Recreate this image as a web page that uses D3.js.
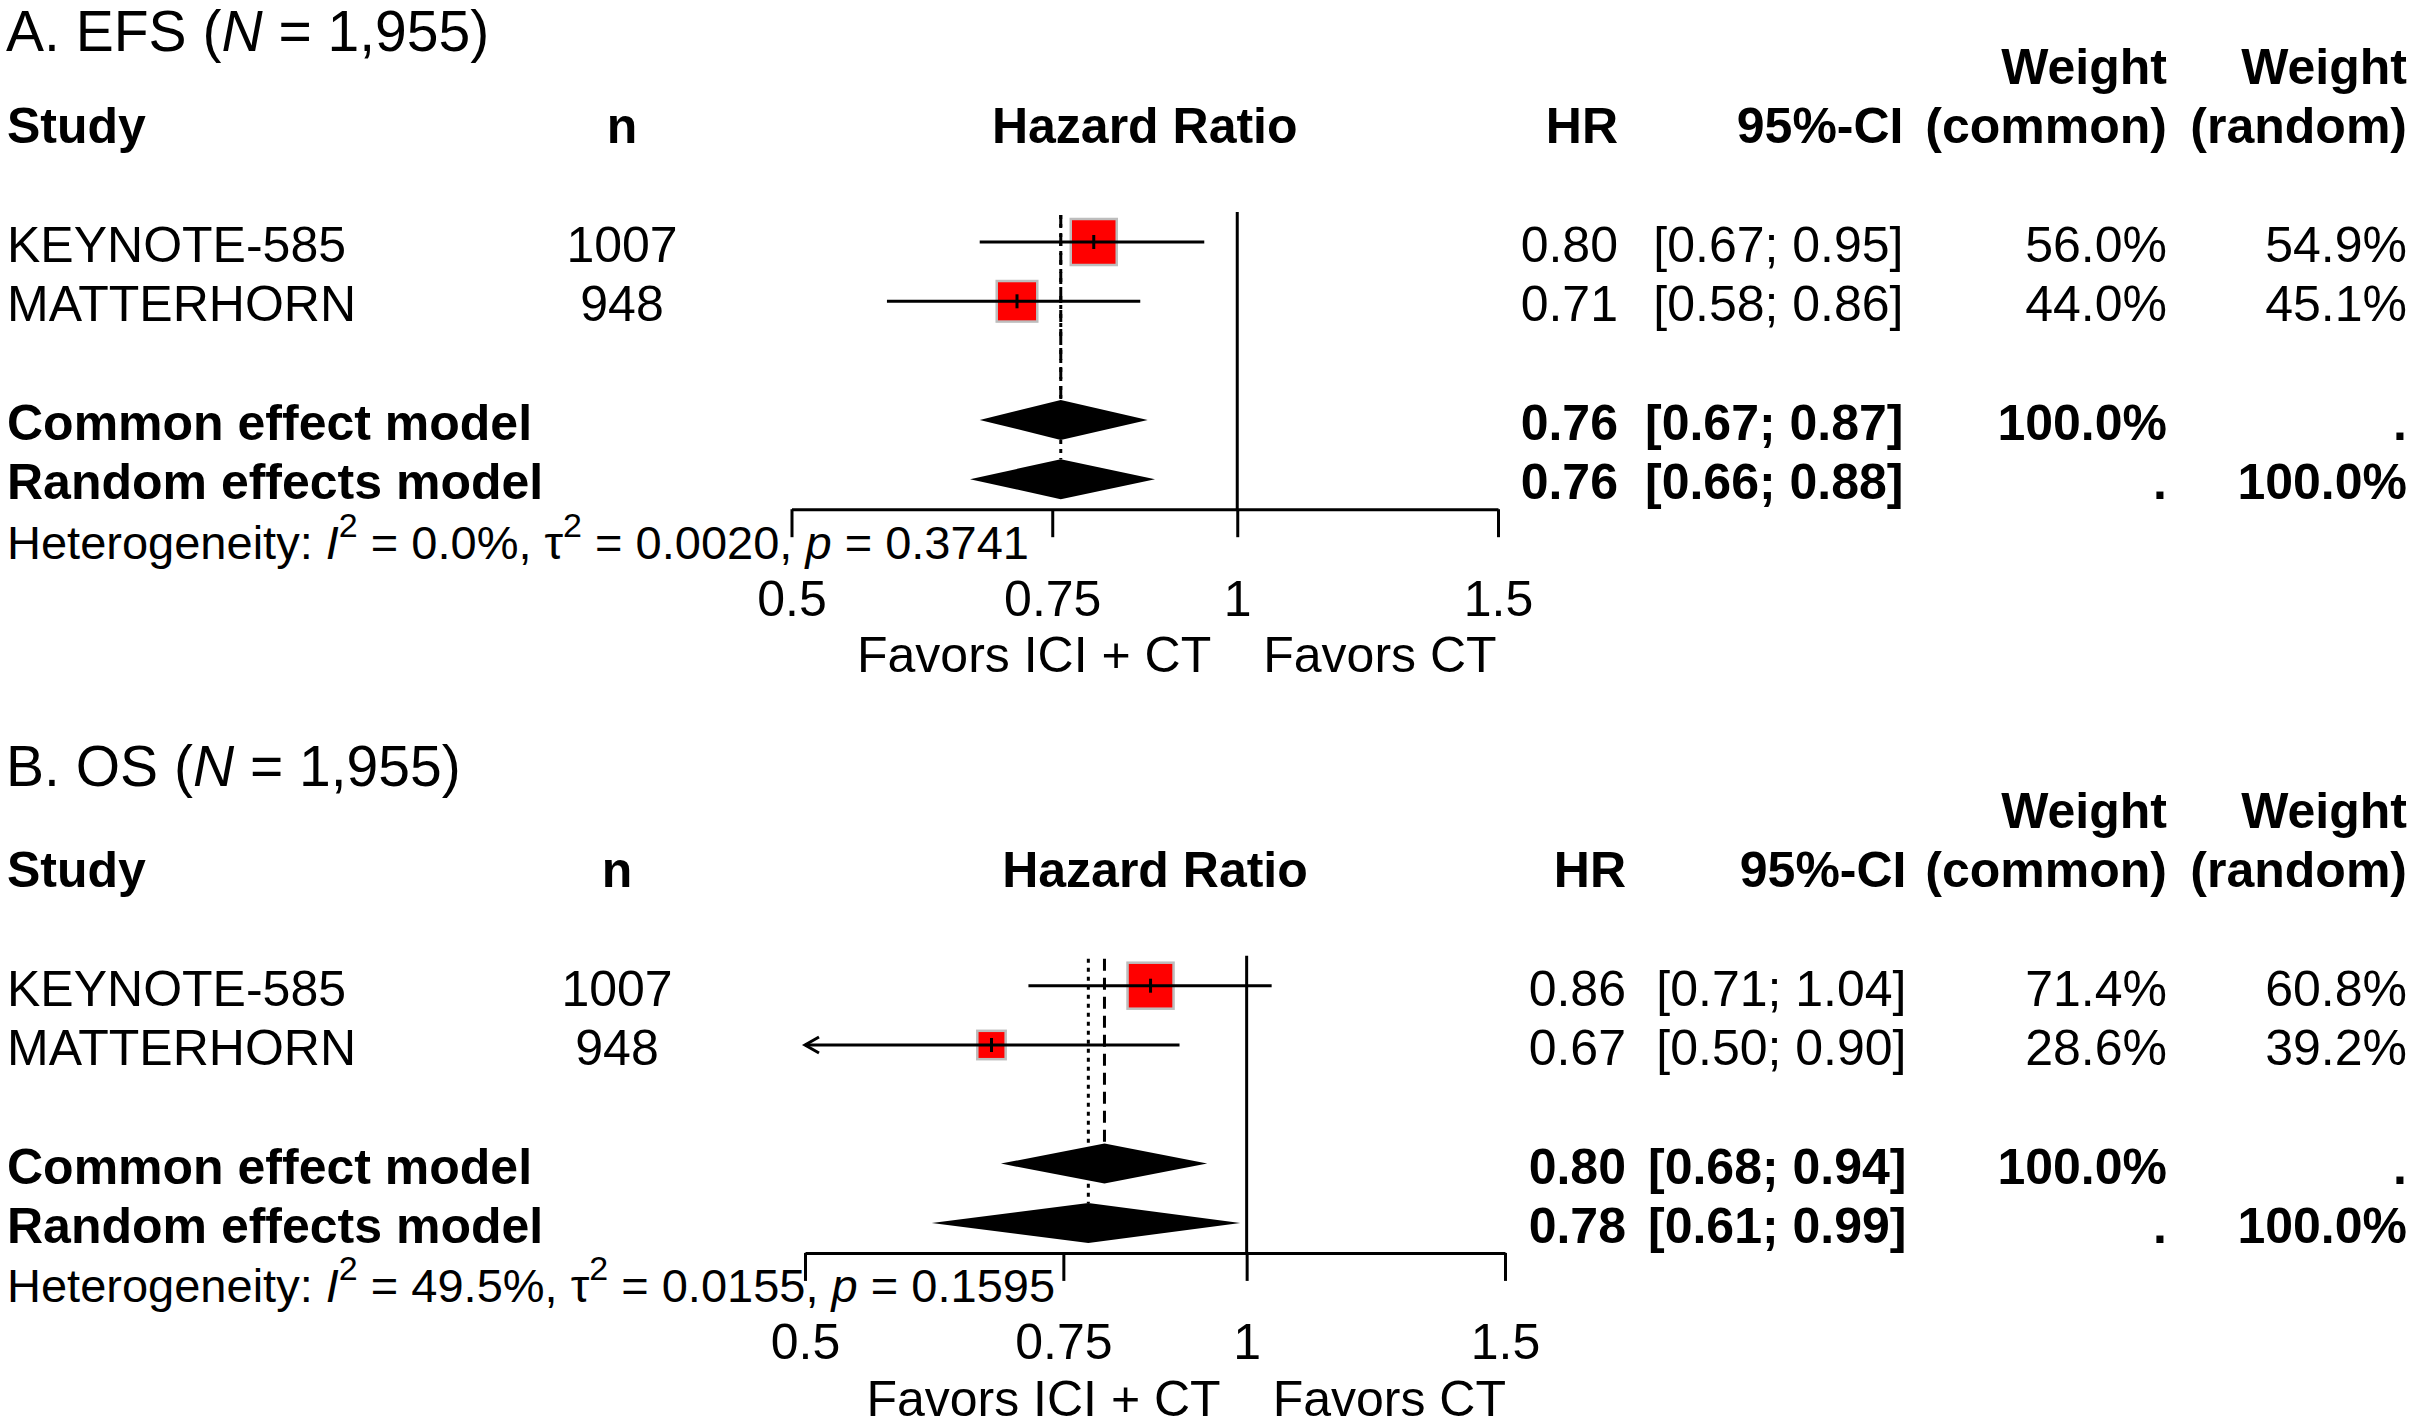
<!DOCTYPE html>
<html>
<head>
<meta charset="utf-8">
<script src="https://cdn.jsdelivr.net/npm/d3@7"></script>
<style>
  body { margin: 0; background: #fff; }
  svg { display: block; }
  text { font-family: "Liberation Sans", Arial, Helvetica, sans-serif; fill: #000; }
</style>
</head>
<body>
<div id="chart"></div>
<script>
const width = 2412, height = 1426;
const fontSize = 50, rowStep = 59.3;

// studies (same in both panels)
const studies = ["KEYNOTE-585", "MATTERHORN"];
const studyN = [1007, 948];
const tickValues = [0.5, 0.75, 1, 1.5];

// A. EFS
const efsHR = [0.80, 0.71];
const efsLower = [0.67, 0.58];
const efsUpper = [0.95, 0.86];
const efsWeightCommon = [56.0, 44.0];
const efsWeightRandom = [54.9, 45.1];
const efsCommon = [0.76, 0.67, 0.87];   // est, lower, upper
const efsRandom = [0.76, 0.66, 0.88];
const efsHet = ["0.0%", "0.0020", "0.3741"]; // I2, tau2, p

// B. OS
const osHR = [0.86, 0.67];
const osLower = [0.71, 0.50];
const osUpper = [1.04, 0.90];
const osWeightCommon = [71.4, 28.6];
const osWeightRandom = [60.8, 39.2];
const osCommon = [0.80, 0.68, 0.94];
const osRandom = [0.78, 0.61, 0.99];
const osHet = ["49.5%", "0.0155", "0.1595"];

const panels = [
  { label: "A. EFS", hr: efsHR, lower: efsLower, upper: efsUpper,
    wc: efsWeightCommon, wr: efsWeightRandom, common: efsCommon, random: efsRandom, het: efsHet,
    top: 64.1, titleY: 51, xRange: [791.5, 1498], nX: 622, hrX: 1618, ciX: 1903.5 },
  { label: "B. OS", hr: osHR, lower: osLower, upper: osUpper,
    wc: osWeightCommon, wr: osWeightRandom, common: osCommon, random: osRandom, het: osHet,
    top: 807.8, titleY: 786, xRange: [805, 1505], nX: 617, hrX: 1626, ciX: 1906.5 }
];

const studyX = 7, wcX = 2167, wrX = 2407;
const lw = 3, maxSquare = 48;

const svg = d3.select("#chart")
  .append("svg")
  .attr("width", width)
  .attr("height", height)
  .attr("viewBox", [0, 0, width, height]);

svg.append("rect").attr("width", width).attr("height", height).attr("fill", "#fff");

const f2 = d3.format(".2f"), f1 = d3.format(".1f");
const ciText = (l, u) => `[${f2(l)}; ${f2(u)}]`;

panels.forEach(p => {
  const g = svg.append("g");
  const rowY = i => p.top + i * rowStep;
  const base = i => rowY(i) + 20;

  const x = d3.scaleLog().domain([tickValues[0], tickValues[tickValues.length - 1]]).range(p.xRange);

  // title
  const title = g.append("text")
    .attr("x", studyX - 1).attr("y", p.titleY)
    .style("font-size", "57px");
  title.append("tspan").text(p.label + " (");
  title.append("tspan").style("font-style", "italic").text("N");
  title.append("tspan").text(" = " + d3.format(",")(d3.sum(studyN)) + ")");

  // column headers
  const bold = (sel) => sel.style("font-weight", "bold").style("font-size", fontSize + "px");
  bold(g.append("text").attr("x", studyX).attr("y", base(1)).text("Study"));
  bold(g.append("text").attr("x", p.nX).attr("y", base(1)).attr("text-anchor", "middle").text("n"));
  bold(g.append("text").attr("x", (p.xRange[0] + p.xRange[1]) / 2).attr("y", base(1))
    .attr("text-anchor", "middle").text("Hazard Ratio"));
  bold(g.append("text").attr("x", p.hrX).attr("y", base(1)).attr("text-anchor", "end").text("HR"));
  bold(g.append("text").attr("x", p.ciX).attr("y", base(1)).attr("text-anchor", "end").text("95%-CI"));
  bold(g.append("text").attr("x", wcX).attr("y", base(0)).attr("text-anchor", "end").text("Weight"));
  bold(g.append("text").attr("x", wcX).attr("y", base(1)).attr("text-anchor", "end").text("(common)"));
  bold(g.append("text").attr("x", wrX).attr("y", base(0)).attr("text-anchor", "end").text("Weight"));
  bold(g.append("text").attr("x", wrX).attr("y", base(1)).attr("text-anchor", "end").text("(random)"));

  // study rows
  const rows = studies.map((s, i) => ({
    name: s, n: studyN[i], hr: p.hr[i], lower: p.lower[i], upper: p.upper[i],
    wc: p.wc[i], wr: p.wr[i], row: 3 + i
  }));

  const rowText = g.selectAll(".study").data(rows).join("g").attr("class", "study")
    .style("font-size", fontSize + "px");
  rowText.append("text").attr("x", studyX).attr("y", d => base(d.row)).text(d => d.name);
  rowText.append("text").attr("x", p.nX).attr("y", d => base(d.row)).attr("text-anchor", "middle").text(d => d.n);
  rowText.append("text").attr("x", p.hrX).attr("y", d => base(d.row)).attr("text-anchor", "end").text(d => f2(d.hr));
  rowText.append("text").attr("x", p.ciX).attr("y", d => base(d.row)).attr("text-anchor", "end").text(d => ciText(d.lower, d.upper));
  rowText.append("text").attr("x", wcX).attr("y", d => base(d.row)).attr("text-anchor", "end").text(d => f1(d.wc) + "%");
  rowText.append("text").attr("x", wrX).attr("y", d => base(d.row)).attr("text-anchor", "end").text(d => f1(d.wr) + "%");

  // pooled rows
  const pooled = [
    { name: "Common effect model", v: p.common, wc: "100.0%", wr: ".", row: 6 },
    { name: "Random effects model", v: p.random, wc: ".", wr: "100.0%", row: 7 }
  ];
  const poolText = g.selectAll(".pooled").data(pooled).join("g").attr("class", "pooled")
    .style("font-size", fontSize + "px").style("font-weight", "bold");
  poolText.append("text").attr("x", studyX).attr("y", d => base(d.row)).text(d => d.name);
  poolText.append("text").attr("x", p.hrX).attr("y", d => base(d.row)).attr("text-anchor", "end").text(d => f2(d.v[0]));
  poolText.append("text").attr("x", p.ciX).attr("y", d => base(d.row)).attr("text-anchor", "end").text(d => ciText(d.v[1], d.v[2]));
  poolText.append("text").attr("x", wcX).attr("y", d => base(d.row)).attr("text-anchor", "end").text(d => d.wc);
  poolText.append("text").attr("x", wrX).attr("y", d => base(d.row)).attr("text-anchor", "end").text(d => d.wr);

  // heterogeneity
  const het = g.append("text").attr("x", studyX).attr("y", base(8)).style("font-size", "47px");
  het.append("tspan").text("Heterogeneity: ");
  het.append("tspan").style("font-style", "italic").text("I");
  het.append("tspan").attr("dy", -22).style("font-size", "34px").text("2");
  het.append("tspan").attr("dy", 22).text(" = " + p.het[0] + ", \u03c4");
  het.append("tspan").attr("dy", -22).style("font-size", "34px").text("2");
  het.append("tspan").attr("dy", 22).text(" = " + p.het[1] + ", ");
  het.append("tspan").style("font-style", "italic").text("p");
  het.append("tspan").text(" = " + p.het[2]);

  // reference line and pooled-effect lines
  const lineTop = rowY(3) - 30;
  const axisY = rowY(7) + 30;
  g.append("line")
    .attr("x1", x(1)).attr("x2", x(1)).attr("y1", lineTop).attr("y2", axisY)
    .attr("stroke", "#000").attr("stroke-width", lw);
  g.append("line")
    .attr("x1", x(p.random[0])).attr("x2", x(p.random[0]))
    .attr("y1", lineTop + 3).attr("y2", rowY(7) - 20)
    .attr("stroke", "#000").attr("stroke-width", lw).attr("stroke-dasharray", "4,5");
  g.append("line")
    .attr("x1", x(p.common[0])).attr("x2", x(p.common[0]))
    .attr("y1", lineTop + 3).attr("y2", rowY(6) - 20)
    .attr("stroke", "#000").attr("stroke-width", lw).attr("stroke-dasharray", "12,7");

  // squares (size from common weights)
  const wMax = d3.max(rows, d => d.wc);
  const side = d => maxSquare * Math.sqrt(d.wc / wMax);
  const marks = g.selectAll(".mark").data(rows).join("g").attr("class", "mark");
  marks.append("rect")
    .attr("x", d => x(d.hr) - side(d) / 2 + 1)
    .attr("y", d => rowY(d.row) - side(d) / 2 + 1)
    .attr("width", d => side(d) - 2)
    .attr("height", d => side(d) - 2)
    .attr("fill", "#ff0000")
    .attr("stroke", "#bdbdbd")
    .attr("stroke-width", 2.5);
  marks.append("line")
    .attr("x1", d => x(Math.max(d.lower, tickValues[0])))
    .attr("x2", d => x(d.upper))
    .attr("y1", d => rowY(d.row)).attr("y2", d => rowY(d.row))
    .attr("stroke", "#000").attr("stroke-width", lw);
  marks.append("line")
    .attr("x1", d => x(d.hr)).attr("x2", d => x(d.hr))
    .attr("y1", d => rowY(d.row) - 7).attr("y2", d => rowY(d.row) + 7)
    .attr("stroke", "#000").attr("stroke-width", 3);
  // arrow when CI reaches the axis limit
  marks.filter(d => d.lower <= tickValues[0])
    .append("path")
    .attr("d", d => {
      const x0 = x(tickValues[0]), y0 = rowY(d.row);
      return `M${x0 + 14},${y0 - 8}L${x0},${y0}L${x0 + 14},${y0 + 8}`;
    })
    .attr("fill", "none").attr("stroke", "#000").attr("stroke-width", lw);

  // diamonds
  g.selectAll(".diamond").data(pooled).join("path").attr("class", "diamond")
    .attr("d", d => {
      const c = rowY(d.row);
      return `M${x(d.v[1])},${c}L${x(d.v[0])},${c - 20}L${x(d.v[2])},${c}L${x(d.v[0])},${c + 20}Z`;
    })
    .attr("fill", "#000");

  // axis
  const axis = g.append("g")
    .attr("transform", `translate(0,${axisY})`)
    .call(d3.axisBottom(x).tickValues(tickValues).tickFormat(d => String(d))
      .tickSize(28).tickSizeOuter(0).tickPadding(43));
  axis.select(".domain").attr("stroke", "#000").attr("stroke-width", lw);
  axis.selectAll(".tick line").attr("stroke", "#000").attr("stroke-width", lw);
  axis.selectAll(".tick text")
    .style("font-size", fontSize + "px")
    .style("font-family", "'Liberation Sans', Arial, sans-serif")
    .attr("fill", "#000");

  // favors labels
  g.append("text").attr("x", x(1) - 26).attr("y", rowY(10) + 15)
    .attr("text-anchor", "end").style("font-size", fontSize + "px").text("Favors ICI + CT");
  g.append("text").attr("x", x(1) + 26).attr("y", rowY(10) + 15)
    .style("font-size", fontSize + "px").text("Favors CT");
});
</script>
</body>
</html>
